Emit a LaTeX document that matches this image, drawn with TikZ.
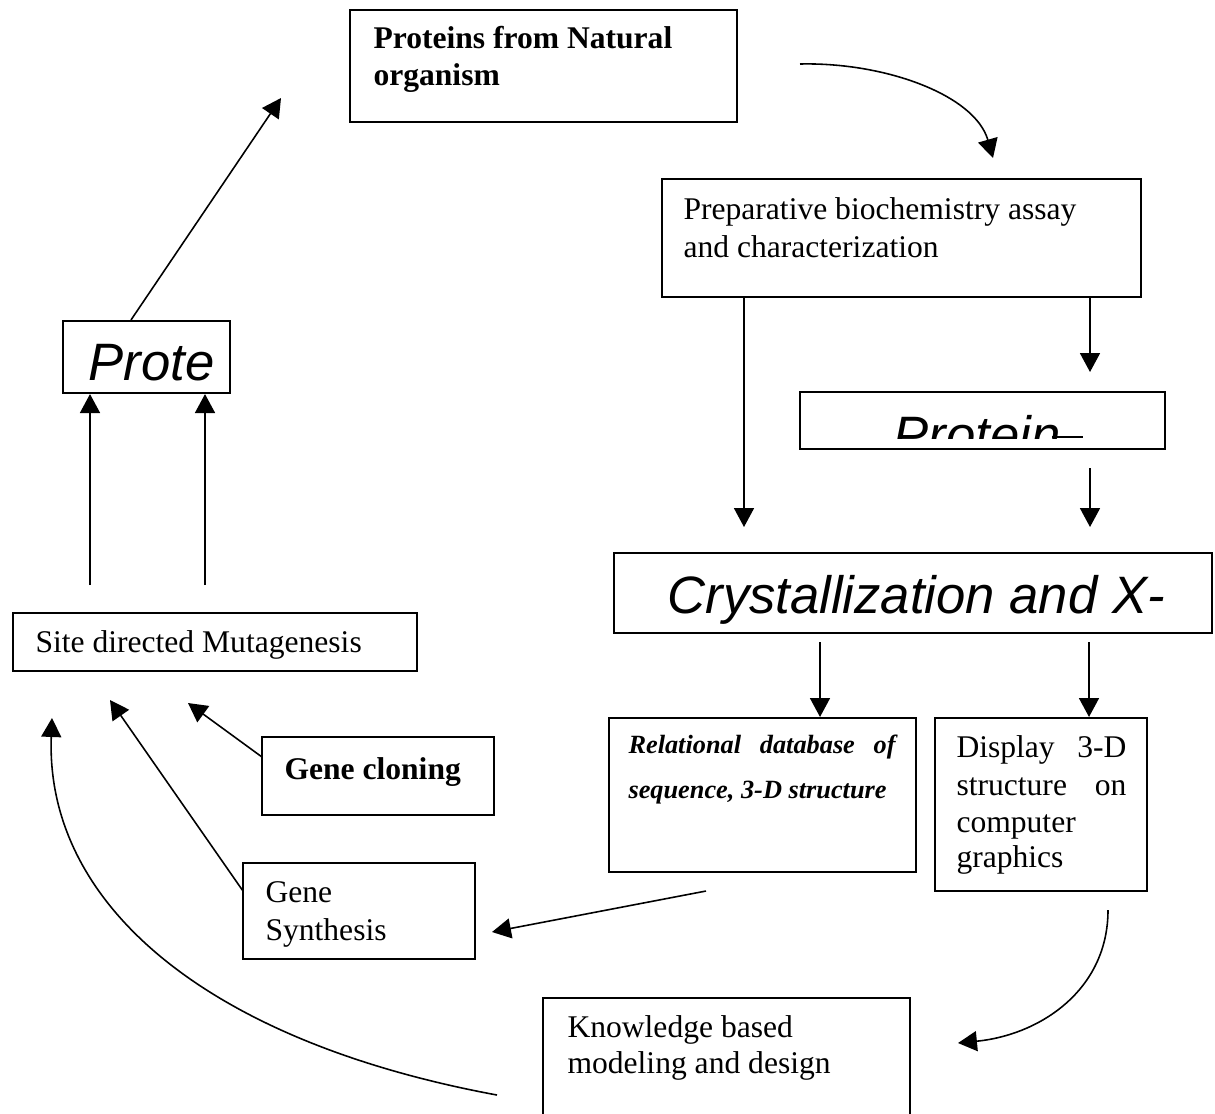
\documentclass[tikz,border=0pt]{standalone}
\usepackage{fontspec}
\setmainfont{Liberation Serif}
\setsansfont{Liberation Sans}
\usetikzlibrary{arrows.meta,fit}
\begin{document}
\begin{tikzpicture}[x=0.38pt,y=-0.38pt,
  box/.style={draw,line width=0.8pt,inner sep=0pt},
  txt/.style={anchor=base west,inner sep=0pt,font=\fontsize{12}{14}\selectfont},
  btxt/.style={anchor=base west,inner sep=0pt,font=\bfseries\fontsize{12}{14}\selectfont},
  bitxt/.style={anchor=base west,inner sep=0pt,font=\bfseries\itshape\fontsize{10}{12}\selectfont},
  big/.style={anchor=base west,inner sep=0pt,font=\sffamily\itshape\fontsize{20}{24}\selectfont},
  arr/.style={line width=0.6pt,-{Triangle[width=7.6pt,length=7.2pt]}},
]
\useasboundingbox (0,0) rectangle (1215,1113);

% boxes
\node[box,fit={(350,10)(737,122)}] (nat) {};
\node[box,fit={(662,179)(1141,297)}] (prep) {};
\node[box,fit={(800,392)(1165,449)}] (protb) {};
\node[box,fit={(614,553)(1212,633)}] (cryst) {};
\node[box,fit={(63,321)(230,393)}] (probox) {};
\node[box,fit={(13,613)(417,671)}] (mut) {};
\node[box,fit={(262,737)(494,815)}] (gclo) {};
\node[box,fit={(243,863)(475,959)}] (gsyn) {};
\node[box,fit={(609,718)(916,872)}] (rel) {};
\node[box,fit={(935,718)(1147,891)}] (disp) {};
\node[box,fit={(543,998)(910,1130)}] (know) {};

% texts
\node[btxt] (nat1) at (373,48) {Proteins from Natural};
\node[btxt] (nat2) at (373,85) {organism};
\node[txt] (prep1) at (683,219) {Preparative biochemistry assay};
\node[txt] (prep2) at (683,257) {and characterization};
\begin{scope}
  \clip (800,392) rectangle (1165,438);
  \node[big] (prott) at (893,453) {Protein};
\end{scope}
\draw[line width=0.8pt] (1052,437) -- (1083,437);
\node[big] (crystt) at (667,613) {Crystallization and X-};
\node[big] (protet) at (88,380) {Prote};
\node[txt] (mutt) at (35,652) {Site directed Mutagenesis};
\node[btxt] (gclot) at (284,779) {Gene cloning};
\node[txt] (gsyn1) at (265,902) {Gene};
\node[txt] (gsyn2) at (265,940) {Synthesis};
\node[bitxt] (rel1) at (628,753) {\hbox to 101.5pt{Relational\hfill database\hfill of}};
\node[bitxt] (rel2) at (628,798) {sequence, 3-D structure};
\node[txt] (disp1) at (956,757) {\hbox to 64.6pt{Display\hfill 3-D}};
\node[txt] (disp2) at (956,795) {\hbox to 64.6pt{structure\hfill on}};
\node[txt] (disp3) at (956,832) {computer};
\node[txt] (disp4) at (956,867) {graphics};
\node[txt] (know1) at (567,1037) {Knowledge based};
\node[txt] (know2) at (567,1073) {modeling and design};

% connector ends
\coordinate (m1) at (90,585);
\coordinate (m2) at (205,585);
\coordinate (pn) at (131,321);
\coordinate (t1) at (281,98);
\coordinate (c1) at (744,527);
\coordinate (c2) at (1090,372);
\coordinate (c3) at (1090,468);
\coordinate (c4) at (1090,527);
\coordinate (c5) at (820,642);
\coordinate (c6) at (1089,642);
\coordinate (c7) at (706,891);
\coordinate (c8) at (492,932);
\coordinate (c9) at (243,891);
\coordinate (c10) at (110,700);
\coordinate (c11) at (262,757);
\coordinate (c12) at (188,703);
\coordinate (c13) at (800,64);
\coordinate (c14) at (993,158);
\coordinate (c15) at (1108,910);
\coordinate (c16) at (958,1043);
\coordinate (c17) at (497,1095);
\coordinate (c18) at (52,718);

% connectors
\draw[arr] (m1) -- (probox.south -| m1);
\draw[arr] (m2) -- (probox.south -| m2);
\draw[arr] (probox.north -| pn) -- (t1);
\draw[arr] (c13) .. controls (885,62) and (975,95) .. (c14);
\draw[arr] (prep.south -| c1) -- (c1);
\draw[arr] (prep.south -| c2) -- (c2);
\draw[arr] (c3) -- (c4);
\draw[arr] (c5) -- (rel.north -| c5);
\draw[arr] (c6) -- (disp.north -| c6);
\draw[arr] (c7) -- (c8);
\draw[arr] (c9) -- (c10);
\draw[arr] (c11) -- (c12);
\draw[arr] (c15) .. controls (1108,990) and (1040,1035) .. (c16);
\draw[arr] (c17) .. controls (200,1040) and (45,900) .. (c18);
\end{tikzpicture}
\end{document}
